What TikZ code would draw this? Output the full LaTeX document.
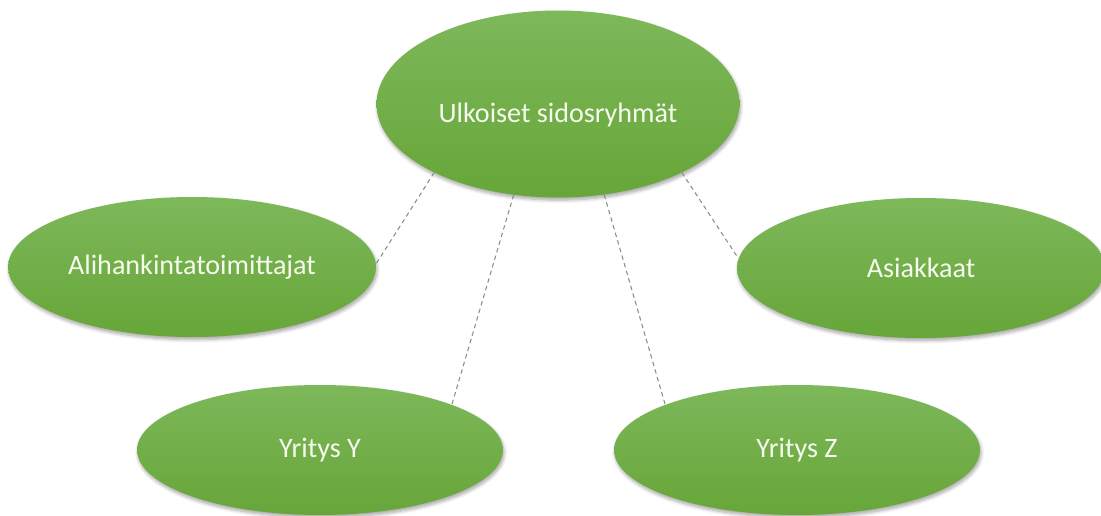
\documentclass[tikz,border=0pt]{standalone}
\usepackage{fontspec}
\setmainfont{Carlito}
\definecolor{leaftop}{RGB}{125,184,90}
\definecolor{leafbottom}{RGB}{103,166,57}
\definecolor{paletext}{RGB}{247,250,238}
\definecolor{linkgray}{RGB}{135,145,120}
\usepackage{tikz}
\usetikzlibrary{
  shapes.geometric,
  shadows.blur
}

\begin{document}
\begin{tikzpicture}[
  x=0.02cm, y=-0.02cm,
  group/.style={ellipse, inner sep=0pt, draw=none, top color=leaftop, bottom color=leafbottom, text=paletext, font=\fontsize{16}{19}\selectfont, blur shadow={shadow xshift=0.6pt, shadow yshift=-1.5pt, shadow blur steps=6, shadow opacity=35}},
  side/.style={group, minimum width=7.36cm, minimum height=2.8cm},
  firm/.style={group, minimum width=7.32cm, minimum height=2.6cm},
  link/.style={linkgray, line width=0.6pt, dash pattern=on 2.5pt off 2pt}
]
  \useasboundingbox (0,0) rectangle (1101,516);

  % Centre
  \node[group, minimum width=7.26cm, minimum height=3.74cm, text height=0.78cm, text depth=0.05cm] (ext) at (558,104) {Ulkoiset sidosryhmät};

  % Row 1
  \node[side] (sub) at (192,267) {Alihankintatoimittajat};
  \node[side] (cust) at (921,268) {Asiakkaat};

  % Row 2
  \node[firm] (firmy) at (320,450) {Yritys Y};
  \node[firm] (firmz) at (797,450) {Yritys Z};

  % Links
  \draw[link] (ext.209) -- (sub.1.5);
  \draw[link] (ext.244) -- (firmy.19);
  \draw[link] (ext.297) -- (firmz.161);
  \draw[link] (ext.331) -- (cust.177);
\end{tikzpicture}
\end{document}
